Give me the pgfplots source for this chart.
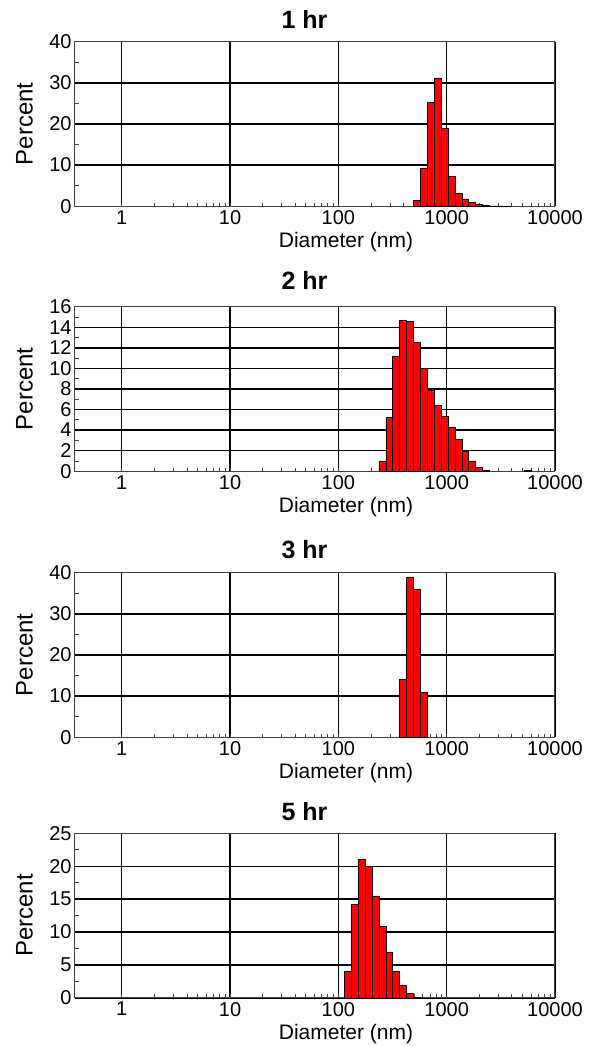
\documentclass[border=0pt]{standalone}
\usepackage{pgfplots}
\pgfplotsset{compat=1.18}
\usepackage{fontspec}
\setmainfont{Liberation Sans}

\pgfplotsset{
  every axis/.append style={
    scale only axis, width=240pt, height=82.25pt,
    xmin=0.37, xmax=10000, ymin=0,
    minor y tick num=1,
    grid=major, major grid style={black, line width=0.7pt},
    axis line style={black!75, line width=0.5pt},
    major tick length=0pt, minor tick length=1.8pt,
    minor tick style={black!75, line width=0.4pt},
    tick align=inside, tick pos=left,
    ticklabel style={font=\fontsize{10}{12}\selectfont},
    yticklabel style={inner sep=1.5pt},
    xticklabel style={inner sep=2pt},
    xlabel style={at={(axis description cs:0.5645,0)}, anchor=north, yshift=-9.5pt,
      font=\fontsize{10.5}{12}\selectfont},
    ylabel style={at={(axis description cs:-0.105,0.5)}, anchor=center,
      font=\fontsize{12}{14}\selectfont},
    every axis title shift=0pt,
    title style={at={(axis description cs:0.478,1)}, anchor=base,
      font=\bfseries\fontsize{12.5}{14}\selectfont},
  },
}

\begin{document}
\begin{tikzpicture}
% 1 hr
\begin{axis}[xmode=log, at={(0pt,0pt)}, anchor=north west,
  xtick={1,10,100,1000,10000}, xticklabels={1,10,100,1000,10000},
  xlabel={Diameter (nm)}, ylabel={Percent},
  ymax=40, ytick={0,10,20,30,40}, yticklabels={0,10,20,30,40},
  title={1 hr}, title style={yshift=6.7pt}]
\addplot[ybar interval, fill=red, draw=black, line width=0.3pt] coordinates {
  (493.6,1.5) (571.6,9.3) (662.0,25.2) (766.7,31.2) (887.8,18.9)
  (1027.8,7.2) (1190.4,3.2) (1379.1,1.8) (1596.5,0.9) (1849.3,0.4)
  (2142.0,0.15) (2480.3,0.1) (2872.4,0.08) (3326.9,0.05) (3851.9,0)
};
\end{axis}

% 2 hr
\begin{axis}[xmode=log, at={(0pt,-132.5pt)}, anchor=north west,
  xtick={1,10,100,1000,10000}, xticklabels={1,10,100,1000,10000},
  xlabel={Diameter (nm)}, ylabel={Percent},
  ymax=16, ytick={0,2,4,6,8,10,12,14,16}, yticklabels={0,2,4,6,8,10,12,14,16},
  title={2 hr}, title style={yshift=8.7pt}]
\addplot[ybar interval, fill=red, draw=black, line width=0.3pt] coordinates {
  (237.0,1.0) (274.4,5.2) (317.8,11.2) (368.1,14.7) (426.3,14.6)
  (493.6,12.5) (571.6,10.0) (662.0,7.9) (766.7,6.4) (887.8,5.3)
  (1027.8,4.3) (1190.4,3.1) (1379.1,1.9) (1596.5,1.0) (1849.3,0.4)
  (2142.0,0.1) (2480.3,0)
};
\addplot[ybar interval, fill=red, draw=black, line width=0.3pt] coordinates {(5166.9,0.08) (5983.7,0)};
\end{axis}

% 3 hr
\begin{axis}[xmode=log, at={(0pt,-265.5pt)}, anchor=north west,
  xtick={1,10,100,1000,10000}, xticklabels={1,10,100,1000,10000},
  xlabel={Diameter (nm)}, ylabel={Percent},
  ymax=40, ytick={0,10,20,30,40}, yticklabels={0,10,20,30,40},
  title={3 hr}, title style={yshift=7.3pt}]
\addplot[ybar interval, fill=red, draw=black, line width=0.3pt] coordinates {
  (368.1,14.0) (426.3,39.0) (493.6,35.9) (571.6,10.8) (662.0,0)
};
\end{axis}

% 5 hr
\begin{axis}[xmode=log, at={(0pt,-395.8pt)}, anchor=north west,
  xtick={1,10,100,1000,10000}, xticklabels={1,10,100,1000,10000},
  xlabel={Diameter (nm)}, ylabel={Percent},
  ymax=25, ytick={0,5,10,15,20,25}, yticklabels={0,5,10,15,20,25},
  title={5 hr}, title style={yshift=6.5pt}]
\addplot[ybar interval, fill=red, draw=black, line width=0.3pt] coordinates {
  (113.7,4.0) (131.8,14.2) (152.6,21.1) (176.7,20.0) (204.6,15.5)
  (237.0,10.9) (274.4,6.9) (317.8,4.0) (368.1,1.9) (426.3,0.7)
  (493.6,0.1) (571.6,0)
};
\end{axis}

\pgfresetboundingbox
\path[use as bounding box] (-37.5pt,20.85pt) rectangle (260pt,-502.15pt);
\end{tikzpicture}
\end{document}
